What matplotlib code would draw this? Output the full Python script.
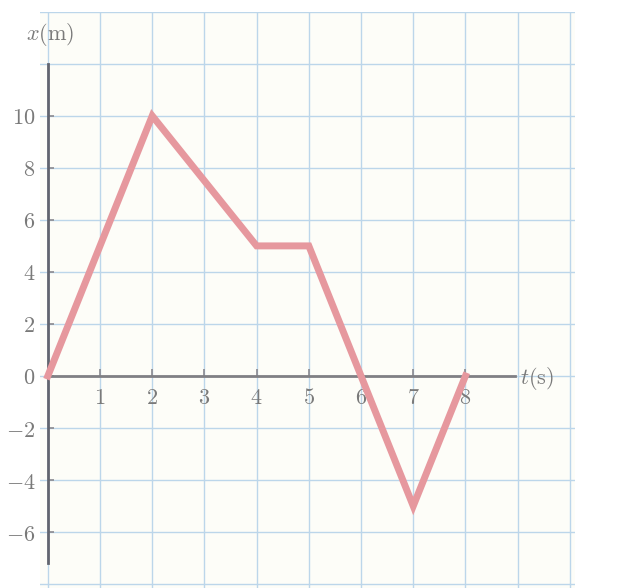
import matplotlib
matplotlib.use("Agg")
import matplotlib.pyplot as plt

# data
t_vals = [0, 2, 4, 5, 6, 7, 8]
x_vals = [0, 10, 5, 5, 0, -5, 0]
x_ticks = [1, 2, 3, 4, 5, 6, 7, 8]
y_ticks = [-6, -4, -2, 0, 2, 4, 6, 8, 10]
grid_x = list(range(0, 11))
grid_y = list(range(-8, 15, 2))

plt.rcParams['mathtext.fontset'] = 'cm'
plt.rcParams['font.family'] = 'DejaVu Serif'

text_col = '#7a7a7a'
fig = plt.figure(figsize=(6.2, 5.88), dpi=100)
fig.patch.set_facecolor('white')
ax = fig.add_axes([0.0645, 0.0, 0.863, 0.98])
ax.set_facecolor('#fdfdf8')
ax.set_xlim(-0.15, 10.1)
ax.set_ylim(-8.15, 14.0)

for g in grid_x:
    ax.axvline(g, color='#bcd6ea', lw=1.0, zorder=0)
for g in grid_y:
    ax.axhline(g, color='#bcd6ea', lw=1.0, zorder=0)

for s in ['top', 'right']:
    ax.spines[s].set_visible(False)
ax.spines['left'].set_position(('data', 0))
ax.spines['bottom'].set_position(('data', 0))
ax.spines['left'].set_bounds(-7.2, 12.0)
ax.spines['bottom'].set_bounds(0, 8.95)
ax.spines['left'].set_color('#62656f')
ax.spines['left'].set_linewidth(2.0)
ax.spines['bottom'].set_color('#808084')
ax.spines['bottom'].set_linewidth(2.0)
ax.spines['left'].set_zorder(2)
ax.spines['bottom'].set_zorder(2)

ax.set_xticks(x_ticks)
ax.set_xticklabels([f"${v}$" for v in x_ticks])
ax.set_yticks(y_ticks)
ax.set_yticklabels([f"${v}$" for v in y_ticks])
ax.tick_params(axis='x', direction='in', length=5, width=1.2, color='#8a8a90',
               labelsize=16, labelcolor=text_col, pad=8)
ax.tick_params(axis='y', direction='in', length=4, width=1.2, color='#8a8a90',
               labelsize=16, labelcolor=text_col, pad=9)

ax.plot(t_vals, x_vals, color='#e6989e', lw=5, solid_joinstyle='miter', zorder=3)

ax.text(0.05, 12.6, r"$x(\mathrm{m})$", fontsize=16, color=text_col, ha='center', va='bottom')
ax.text(9.05, -0.1, r"$t(\mathrm{s})$", fontsize=16, color=text_col, ha='left', va='center')

fig.savefig("out.png", dpi=100)
